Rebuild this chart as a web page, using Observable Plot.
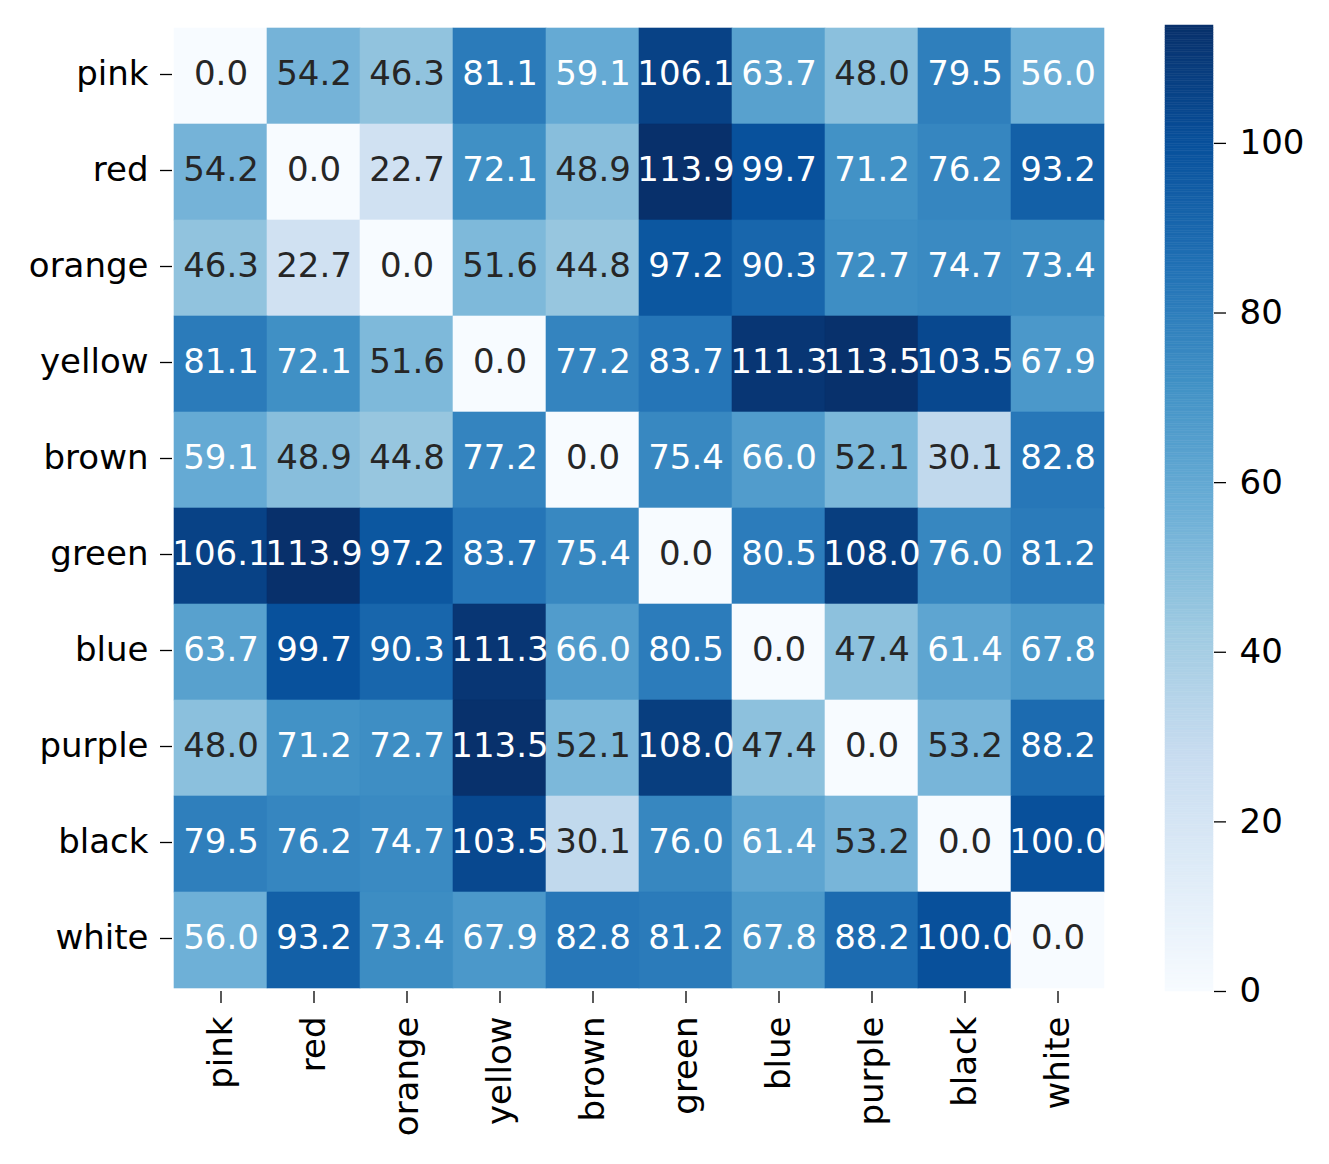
<!DOCTYPE html>
<html>
<head>
<meta charset="utf-8">
<script src="https://cdn.jsdelivr.net/npm/d3@7"></script>
<script src="https://cdn.jsdelivr.net/npm/@observablehq/plot@0.6"></script>
<style>
  html, body { margin: 0; padding: 0; background: #fff; }
  #wrap { position: relative; width: 1329px; height: 1164px; background: #fff; }
  #heat { position: absolute; left: 0; top: 0; }
  #cbar { position: absolute; left: 1140px; top: 0; }
</style>
</head>
<body>
<div id="wrap"><div id="heat"></div><div id="cbar"></div></div>
<script>
const colors = ["pink", "red", "orange", "yellow", "brown", "green", "blue", "purple", "black", "white"];
const distances = [
  [0.0, 54.2, 46.3, 81.1, 59.1, 106.1, 63.7, 48.0, 79.5, 56.0],
  [54.2, 0.0, 22.7, 72.1, 48.9, 113.9, 99.7, 71.2, 76.2, 93.2],
  [46.3, 22.7, 0.0, 51.6, 44.8, 97.2, 90.3, 72.7, 74.7, 73.4],
  [81.1, 72.1, 51.6, 0.0, 77.2, 83.7, 111.3, 113.5, 103.5, 67.9],
  [59.1, 48.9, 44.8, 77.2, 0.0, 75.4, 66.0, 52.1, 30.1, 82.8],
  [106.1, 113.9, 97.2, 83.7, 75.4, 0.0, 80.5, 108.0, 76.0, 81.2],
  [63.7, 99.7, 90.3, 111.3, 66.0, 80.5, 0.0, 47.4, 61.4, 67.8],
  [48.0, 71.2, 72.7, 113.5, 52.1, 108.0, 47.4, 0.0, 53.2, 88.2],
  [79.5, 76.2, 74.7, 103.5, 30.1, 76.0, 61.4, 53.2, 0.0, 100.0],
  [56.0, 93.2, 73.4, 67.9, 82.8, 81.2, 67.8, 88.2, 100.0, 0.0]
];
const colorbarTicks = [0, 20, 40, 60, 80, 100];
// matplotlib "Blues" anchor colours
const bluesStops = ["#f7fbff", "#deebf7", "#c6dbef", "#9ecae1", "#6baed6", "#4292c6", "#2171b5", "#08519c", "#08306b"];

const cells = [];
colors.forEach((r, i) => colors.forEach((c, j) => cells.push({row: r, col: c, value: distances[i][j]})));

const vmax = d3.max(cells, d => d.value);
const vmin = 0;
const domainStops = bluesStops.map((_, i) => vmin + (vmax - vmin) * i / (bluesStops.length - 1));
const colorOpts = {type: "linear", domain: domainStops, range: bluesStops, interpolate: "rgb", clamp: true};
const cscale = d3.scaleLinear().domain(domainStops).range(bluesStops).interpolate(d3.interpolateRgb).clamp(true);

function lum(hex) {
  const c = d3.rgb(hex);
  const f = v => { v /= 255; return v <= 0.03928 ? v / 12.92 : Math.pow((v + 0.055) / 1.055, 2.4); };
  return 0.2126 * f(c.r) + 0.7152 * f(c.g) + 0.0722 * f(c.b);
}
const textColor = d => lum(cscale(d.value)) > 0.408 ? "#262626" : "#ffffff";

const font = "DejaVu Sans, Liberation Sans, sans-serif";
const FS = 34;

const heat = Plot.plot({
  width: 1140,
  height: 1164,
  marginLeft: 172,
  marginRight: 34,
  marginTop: 25,
  marginBottom: 173,
  style: {fontFamily: font, fontSize: FS + "px", color: "#000", background: "transparent"},
  x: {domain: colors, padding: 0, label: null},
  y: {domain: colors, padding: 0, label: null},
  color: colorOpts,
  marks: [
    Plot.cell(cells, {x: "col", y: "row", fill: "value", stroke: "value", strokeWidth: 0.6, inset: 0}),
    Plot.text(cells, {x: "col", y: "row", text: d => d.value.toFixed(1), fill: textColor, fontSize: FS, fontFamily: font, dy: -2}),
    Plot.axisX({anchor: "bottom", tickRotate: -90, tickSize: 12, tickPadding: 13, strokeWidth: 1.3, label: null, fontSize: FS}),
    Plot.axisY({anchor: "left", tickSize: 12, tickPadding: 12, strokeWidth: 1.3, label: null, fontSize: FS, dy: -2})
  ]
});
document.getElementById("heat").appendChild(heat);

const nSteps = 400;
const bands = d3.range(nSteps).map(i => ({y1: vmin + (vmax - vmin) * i / nSteps, y2: vmin + (vmax - vmin) * (i + 1) / nSteps}));

const cbar = Plot.plot({
  width: 189,
  height: 1164,
  marginLeft: 25,
  marginRight: 116,
  marginTop: 25,
  marginBottom: 173,
  style: {fontFamily: font, fontSize: FS + "px", color: "#000", background: "transparent"},
  x: {domain: [0, 1], axis: null},
  y: {domain: [vmin, vmax], label: null},
  color: colorOpts,
  marks: [
    Plot.rect(bands, {x1: 0, x2: 1, y1: "y1", y2: "y2", fill: d => (d.y1 + d.y2) / 2, stroke: d => (d.y1 + d.y2) / 2, strokeWidth: 0.5}),
    Plot.axisY({anchor: "right", ticks: colorbarTicks, tickSize: 12, tickPadding: 14, strokeWidth: 1.3, label: null, fontSize: FS})
  ]
});
document.getElementById("cbar").appendChild(cbar);
</script>
</body>
</html>
